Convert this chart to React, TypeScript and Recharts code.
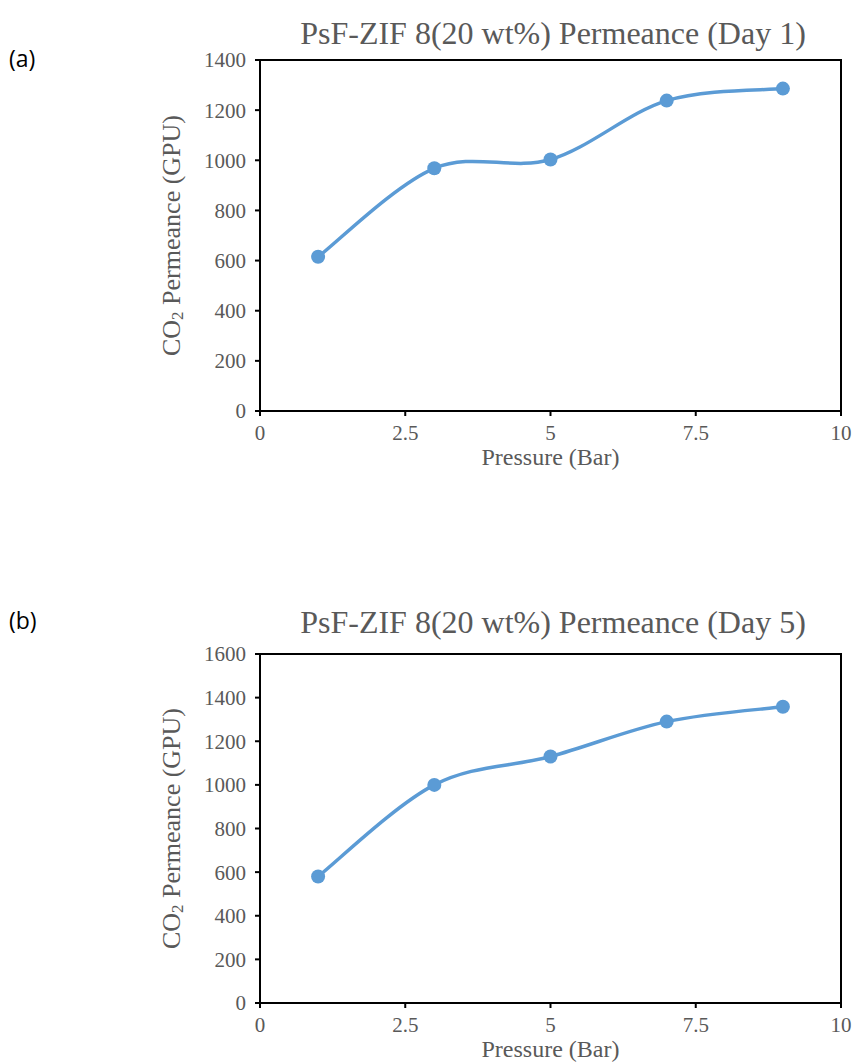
import React from "react";
import { LineChart, Line, XAxis, YAxis, ReferenceArea, Label } from "recharts";

// Pressure (Bar) at which permeance was measured
const pressure = [1, 3, 5, 7, 9];

// CO2 permeance (GPU)
const day1Permeance = [615, 968, 1003, 1238, 1286];
const day5Permeance = [580, 1000, 1130, 1290, 1358];

const xTicks = [0, 2.5, 5, 7.5, 10];
const day1YTicks = [0, 200, 400, 600, 800, 1000, 1200, 1400];
const day5YTicks = [0, 200, 400, 600, 800, 1000, 1200, 1400, 1600];

const SERIF = '"Liberation Serif", "Times New Roman", serif';
const SANS = '"Open Sans", "Noto Sans", sans-serif';
const TEXT_GREY = "#595959";
const LINE_BLUE = "#5B9BD5";

const CHART_W = 856;
const PLOT_LEFT = 260;
const PLOT_RIGHT = 841;
const Y_AXIS_W = 60;

// Excel-style smoothed line (Catmull-Rom with 1/6 control handles)
const excelSmooth = (context: any) => {
    let pts: [number, number][] = [];
    return {
        areaStart() {},
        areaEnd() {},
        lineStart() {
            pts = [];
        },
        lineEnd() {
            if (!pts.length) return;
            context.moveTo(pts[0][0], pts[0][1]);
            for (let i = 0; i < pts.length - 1; i++) {
                const p0 = pts[i - 1] || pts[i];
                const p1 = pts[i];
                const p2 = pts[i + 1];
                const p3 = pts[i + 2] || p2;
                context.bezierCurveTo(
                    p1[0] + (p2[0] - p0[0]) / 6,
                    p1[1] + (p2[1] - p0[1]) / 6,
                    p2[0] - (p3[0] - p1[0]) / 6,
                    p2[1] - (p3[1] - p1[1]) / 6,
                    p2[0],
                    p2[1]
                );
            }
        },
        point(x: number, y: number) {
            pts.push([+x, +y]);
        },
    };
};

const XAxisTitle = (props: any) => {
    const vb = props.viewBox || {};
    return (
        <text
            x={vb.x + vb.width / 2}
            y={vb.y + 54}
            textAnchor="middle"
            fill={TEXT_GREY}
            fontSize={24}
            fontFamily={SERIF}
        >
            Pressure (Bar)
        </text>
    );
};

const YAxisTitle = (props: any) => {
    const vb = props.viewBox || {};
    const cx = vb.x + vb.width - 89;
    const cy = vb.y + vb.height / 2;
    return (
        <text
            x={cx}
            y={cy}
            transform={`rotate(-90, ${cx}, ${cy})`}
            textAnchor="middle"
            dominantBaseline="central"
            fill={TEXT_GREY}
            fontSize={26}
            fontFamily={SERIF}
        >
            CO
            <tspan dy={6} fontSize={17}>2</tspan>
            <tspan dy={-6}> Permeance (GPU)</tspan>
        </text>
    );
};

interface PanelProps {
    top: number;
    height: number;
    plotTop: number;
    plotHeight: number;
    title: string;
    titleTop: number;
    tag: string;
    tagTop: number;
    values: number[];
    yTicks: number[];
}

const PermeancePanel: React.FC<PanelProps> = ({
    top, height, plotTop, plotHeight, title, titleTop, tag, tagTop, values, yTicks,
}) => {
    const data = pressure.map((p, i) => ({ pressure: p, permeance: values[i] }));
    const yMax = yTicks[yTicks.length - 1];
    const xAxisH = height - plotTop - plotHeight;
    const tickFont = { fill: TEXT_GREY, fontSize: 21, fontFamily: SERIF };
    const blackLine = { stroke: "#000", strokeWidth: 2 };

    return (
        <div style={{ position: "absolute", left: 0, top, width: CHART_W, height }}>
            <div
                style={{
                    position: "absolute",
                    left: 9,
                    top: tagTop,
                    fontFamily: SANS,
                    fontSize: 23,
                    lineHeight: "28px",
                    color: "#000",
                }}
            >
                {tag}
            </div>
            <div
                style={{
                    position: "absolute",
                    left: 253,
                    width: 600,
                    top: titleTop,
                    textAlign: "center",
                    fontFamily: SERIF,
                    fontSize: 32,
                    lineHeight: "36px",
                    color: TEXT_GREY,
                    whiteSpace: "nowrap",
                }}
            >
                {title}
            </div>
            <LineChart
                width={CHART_W}
                height={height}
                data={data}
                margin={{ top: plotTop, right: CHART_W - PLOT_RIGHT, bottom: 0, left: PLOT_LEFT - Y_AXIS_W }}
                style={{ position: "absolute", left: 0, top: 0 }}
            >
                <XAxis
                    dataKey="pressure"
                    type="number"
                    domain={[0, 10]}
                    ticks={xTicks}
                    interval={0}
                    height={xAxisH}
                    tickSize={5}
                    tickMargin={9}
                    tick={tickFont}
                    tickLine={blackLine}
                    axisLine={blackLine}
                >
                    <Label content={<XAxisTitle />} />
                </XAxis>
                <XAxis
                    xAxisId="inner"
                    dataKey="pressure"
                    type="number"
                    domain={[0, 10]}
                    ticks={xTicks}
                    interval={0}
                    mirror
                    height={20}
                    tickSize={5}
                    tick={false}
                    tickLine={blackLine}
                    axisLine={false}
                    allowDataOverflow
                />
                <YAxis
                    type="number"
                    domain={[0, yMax]}
                    ticks={yTicks}
                    interval={0}
                    width={Y_AXIS_W}
                    tickSize={5}
                    tickMargin={9}
                    tick={tickFont}
                    tickLine={blackLine}
                    axisLine={blackLine}
                    allowDataOverflow
                >
                    <Label content={<YAxisTitle />} />
                </YAxis>
                <YAxis
                    yAxisId="inner"
                    type="number"
                    domain={[0, yMax]}
                    ticks={yTicks}
                    interval={0}
                    mirror
                    width={20}
                    tickSize={3}
                    tick={false}
                    tickLine={blackLine}
                    axisLine={false}
                    allowDataOverflow
                />
                <ReferenceArea
                    x1={0}
                    x2={10}
                    y1={0}
                    y2={yMax}
                    fill="none"
                    stroke="#000"
                    strokeWidth={2}
                    ifOverflow="visible"
                />
                <Line
                    dataKey="permeance"
                    type={excelSmooth as any}
                    stroke={LINE_BLUE}
                    strokeWidth={3.5}
                    dot={{ r: 7, fill: LINE_BLUE, stroke: LINE_BLUE, strokeWidth: 0 }}
                    activeDot={false}
                    isAnimationActive={false}
                />
            </LineChart>
        </div>
    );
};

export default function App() {
    return (
        <div style={{ position: "absolute", left: 0, top: 0, width: CHART_W, height: 1062, background: "#fff" }}>
            <PermeancePanel
                top={0}
                height={530}
                plotTop={60}
                plotHeight={351}
                title="PsF-ZIF 8(20 wt%) Permeance (Day 1)"
                titleTop={15}
                tag="(a)"
                tagTop={44}
                values={day1Permeance}
                yTicks={day1YTicks}
            />
            <PermeancePanel
                top={560}
                height={502}
                plotTop={94}
                plotHeight={349}
                title="PsF-ZIF 8(20 wt%) Permeance (Day 5)"
                titleTop={44}
                tag="(b)"
                tagTop={46}
                values={day5Permeance}
                yTicks={day5YTicks}
            />
        </div>
    );
}
